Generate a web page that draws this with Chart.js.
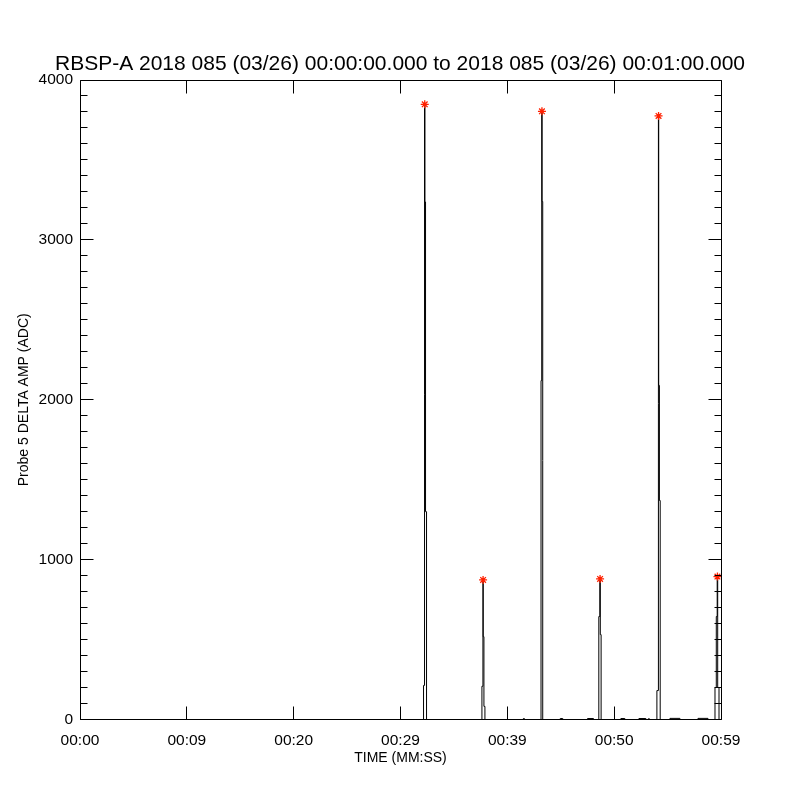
<!DOCTYPE html>
<html>
<head>
<meta charset="utf-8">
<script src="https://cdn.jsdelivr.net/npm/chart.js@4"></script>
<style>
  html, body { margin: 0; padding: 0; background: #ffffff; }
  #wrap { width: 800px; height: 800px; }
</style>
</head>
<body>
<div id="wrap"><canvas id="c" width="800" height="800"></canvas></div>
<script>
// ---- chart text ----
const titleText = 'RBSP-A 2018 085 (03/26) 00:00:00.000 to 2018 085 (03/26) 00:01:00.000';
const xAxisTitle = 'TIME (MM:SS)';
const yAxisTitle = 'Probe 5 DELTA AMP (ADC)';
const xTickLabels = ['00:00', '00:09', '00:20', '00:29', '00:39', '00:50', '00:59'];

// ---- series: time (s from start) and amplitude (ADC), histogram steps ----
const times = [
  0,
  32.156, 32.250, 32.288, 32.344, 32.438,
  37.622, 37.716, 37.744, 37.809, 37.903,
  41.503, 41.597,
  43.153, 43.219, 43.256, 43.313,
  44.953, 45.188,
  47.503, 48.066,
  48.563, 48.656, 48.703, 48.778,
  50.625, 51.000,
  52.313, 52.969,
  53.203, 53.297,
  54.000, 54.141, 54.169, 54.234, 54.309,
  55.219, 56.156,
  57.844, 58.781,
  59.438, 59.559, 59.644, 59.691, 59.813,
  60
];
const amps = [
  0,
  213, 3848, 3237, 1300, 0,
  208, 873, 518, 82, 0,
  6, 0,
  2120, 3804, 3240, 0,
  6, 0,
  6, 0,
  644, 879, 531, 0,
  6, 0,
  6, 0,
  5, 0,
  181, 3775, 2090, 1370, 0,
  7, 0,
  7, 0,
  200, 644, 894, 200, 0,
  0
];

// ---- peak markers (red asterisks) ----
const peakTimes = [32.269, 37.730, 43.240, 48.680, 54.155, 59.667];
const peakAmps  = [3848, 873, 3804, 879, 3775, 894];

// ---- axis ranges ----
const xMin = 0, xMax = 60, xStep = 10;
const yMin = 0, yMax = 4000, yStep = 1000, yMinorStep = 100;

const FONT = "'Liberation Sans', Arial, sans-serif";

const boxTicks = {
  id: 'boxTicks',
  afterDatasetsDraw(chart) {
    const { ctx, chartArea: a, scales } = chart;
    const xs = scales.x, ys = scales.y;
    const L = Math.floor(a.left) + 0.5, R = Math.floor(a.right) + 0.5;
    const T = Math.floor(a.top) + 0.5, B = Math.floor(a.bottom) + 0.5;
    ctx.save();
    ctx.strokeStyle = '#000000';
    ctx.lineWidth = 1;
    ctx.beginPath();
    ctx.rect(L, T, R - L, B - T);
    for (let v = yMin; v <= yMax; v += yMinorStep) {
      const p = Math.floor(ys.getPixelForValue(v)) + 0.5;
      const len = (v % yStep === 0) ? 13 : 7;
      ctx.moveTo(L, p); ctx.lineTo(L + len, p);
      ctx.moveTo(R, p); ctx.lineTo(R - len, p);
    }
    for (let v = xMin; v <= xMax; v += xStep) {
      const p = Math.floor(xs.getPixelForValue(v)) + 0.5;
      ctx.moveTo(p, B); ctx.lineTo(p, B - 13);
      ctx.moveTo(p, T); ctx.lineTo(p, T + 13);
    }
    ctx.stroke();
    ctx.restore();
  }
};

new Chart(document.getElementById('c'), {
  type: 'line',
  data: {
    datasets: [
      {
        label: 'amp',
        data: times.map((t, i) => ({ x: t, y: amps[i] })),
        borderColor: '#000000',
        borderWidth: 1,
        pointRadius: 0,
        stepped: 'before',
        fill: false,
        order: 2
      },
      {
        label: 'peaks',
        data: peakTimes.map((t, i) => ({ x: t, y: peakAmps[i] })),
        showLine: false,
        pointStyle: 'star',
        pointRadius: 4,
        pointBorderWidth: 1.3,
        pointBorderColor: '#ff2000',
        pointBackgroundColor: '#ff2000',
        order: 1
      }
    ]
  },
  options: {
    responsive: false,
    animation: false,
    layout: { padding: 0 },
    plugins: {
      legend: { display: false },
      tooltip: { enabled: false },
      title: {
        display: true,
        text: titleText,
        color: '#000000',
        font: { family: FONT, size: 21, weight: 'normal', lineHeight: 1.2 },
        padding: { top: 51.4, bottom: 3.4 }
      }
    },
    scales: {
      x: {
        type: 'linear',
        min: xMin, max: xMax,
        grid: { display: false, drawTicks: false },
        border: { display: false },
        ticks: {
          stepSize: xStep,
          autoSkip: false,
          maxRotation: 0,
          padding: 12,
          color: '#000000',
          font: { family: FONT, size: 15.5 },
          callback: (v, i) => xTickLabels[i]
        },
        title: {
          display: true,
          text: xAxisTitle,
          color: '#000000',
          font: { family: FONT, size: 14, lineHeight: 1.2 },
          padding: { top: 0, bottom: 33.6 }
        },
        afterFit: (s) => { s.height = 80.5; }
      },
      y: {
        position: 'left',
        min: yMin, max: yMax,
        grid: { display: false, drawTicks: false },
        border: { display: false },
        ticks: {
          stepSize: yStep,
          padding: 7,
          color: '#000000',
          font: { family: FONT, size: 15.5 },
          callback: (v) => String(v)
        },
        title: {
          display: true,
          text: yAxisTitle,
          color: '#000000',
          font: { family: FONT, size: 14, lineHeight: 1.2 },
          padding: { top: 15.6, bottom: 0 }
        },
        afterFit: (s) => { s.width = 80; }
      },
      yRight: {
        position: 'right',
        min: yMin, max: yMax,
        grid: { display: false, drawTicks: false },
        border: { display: false },
        ticks: { display: false },
        afterFit: (s) => { s.width = 79; }
      }
    }
  },
  plugins: [boxTicks]
});
</script>
</body>
</html>
